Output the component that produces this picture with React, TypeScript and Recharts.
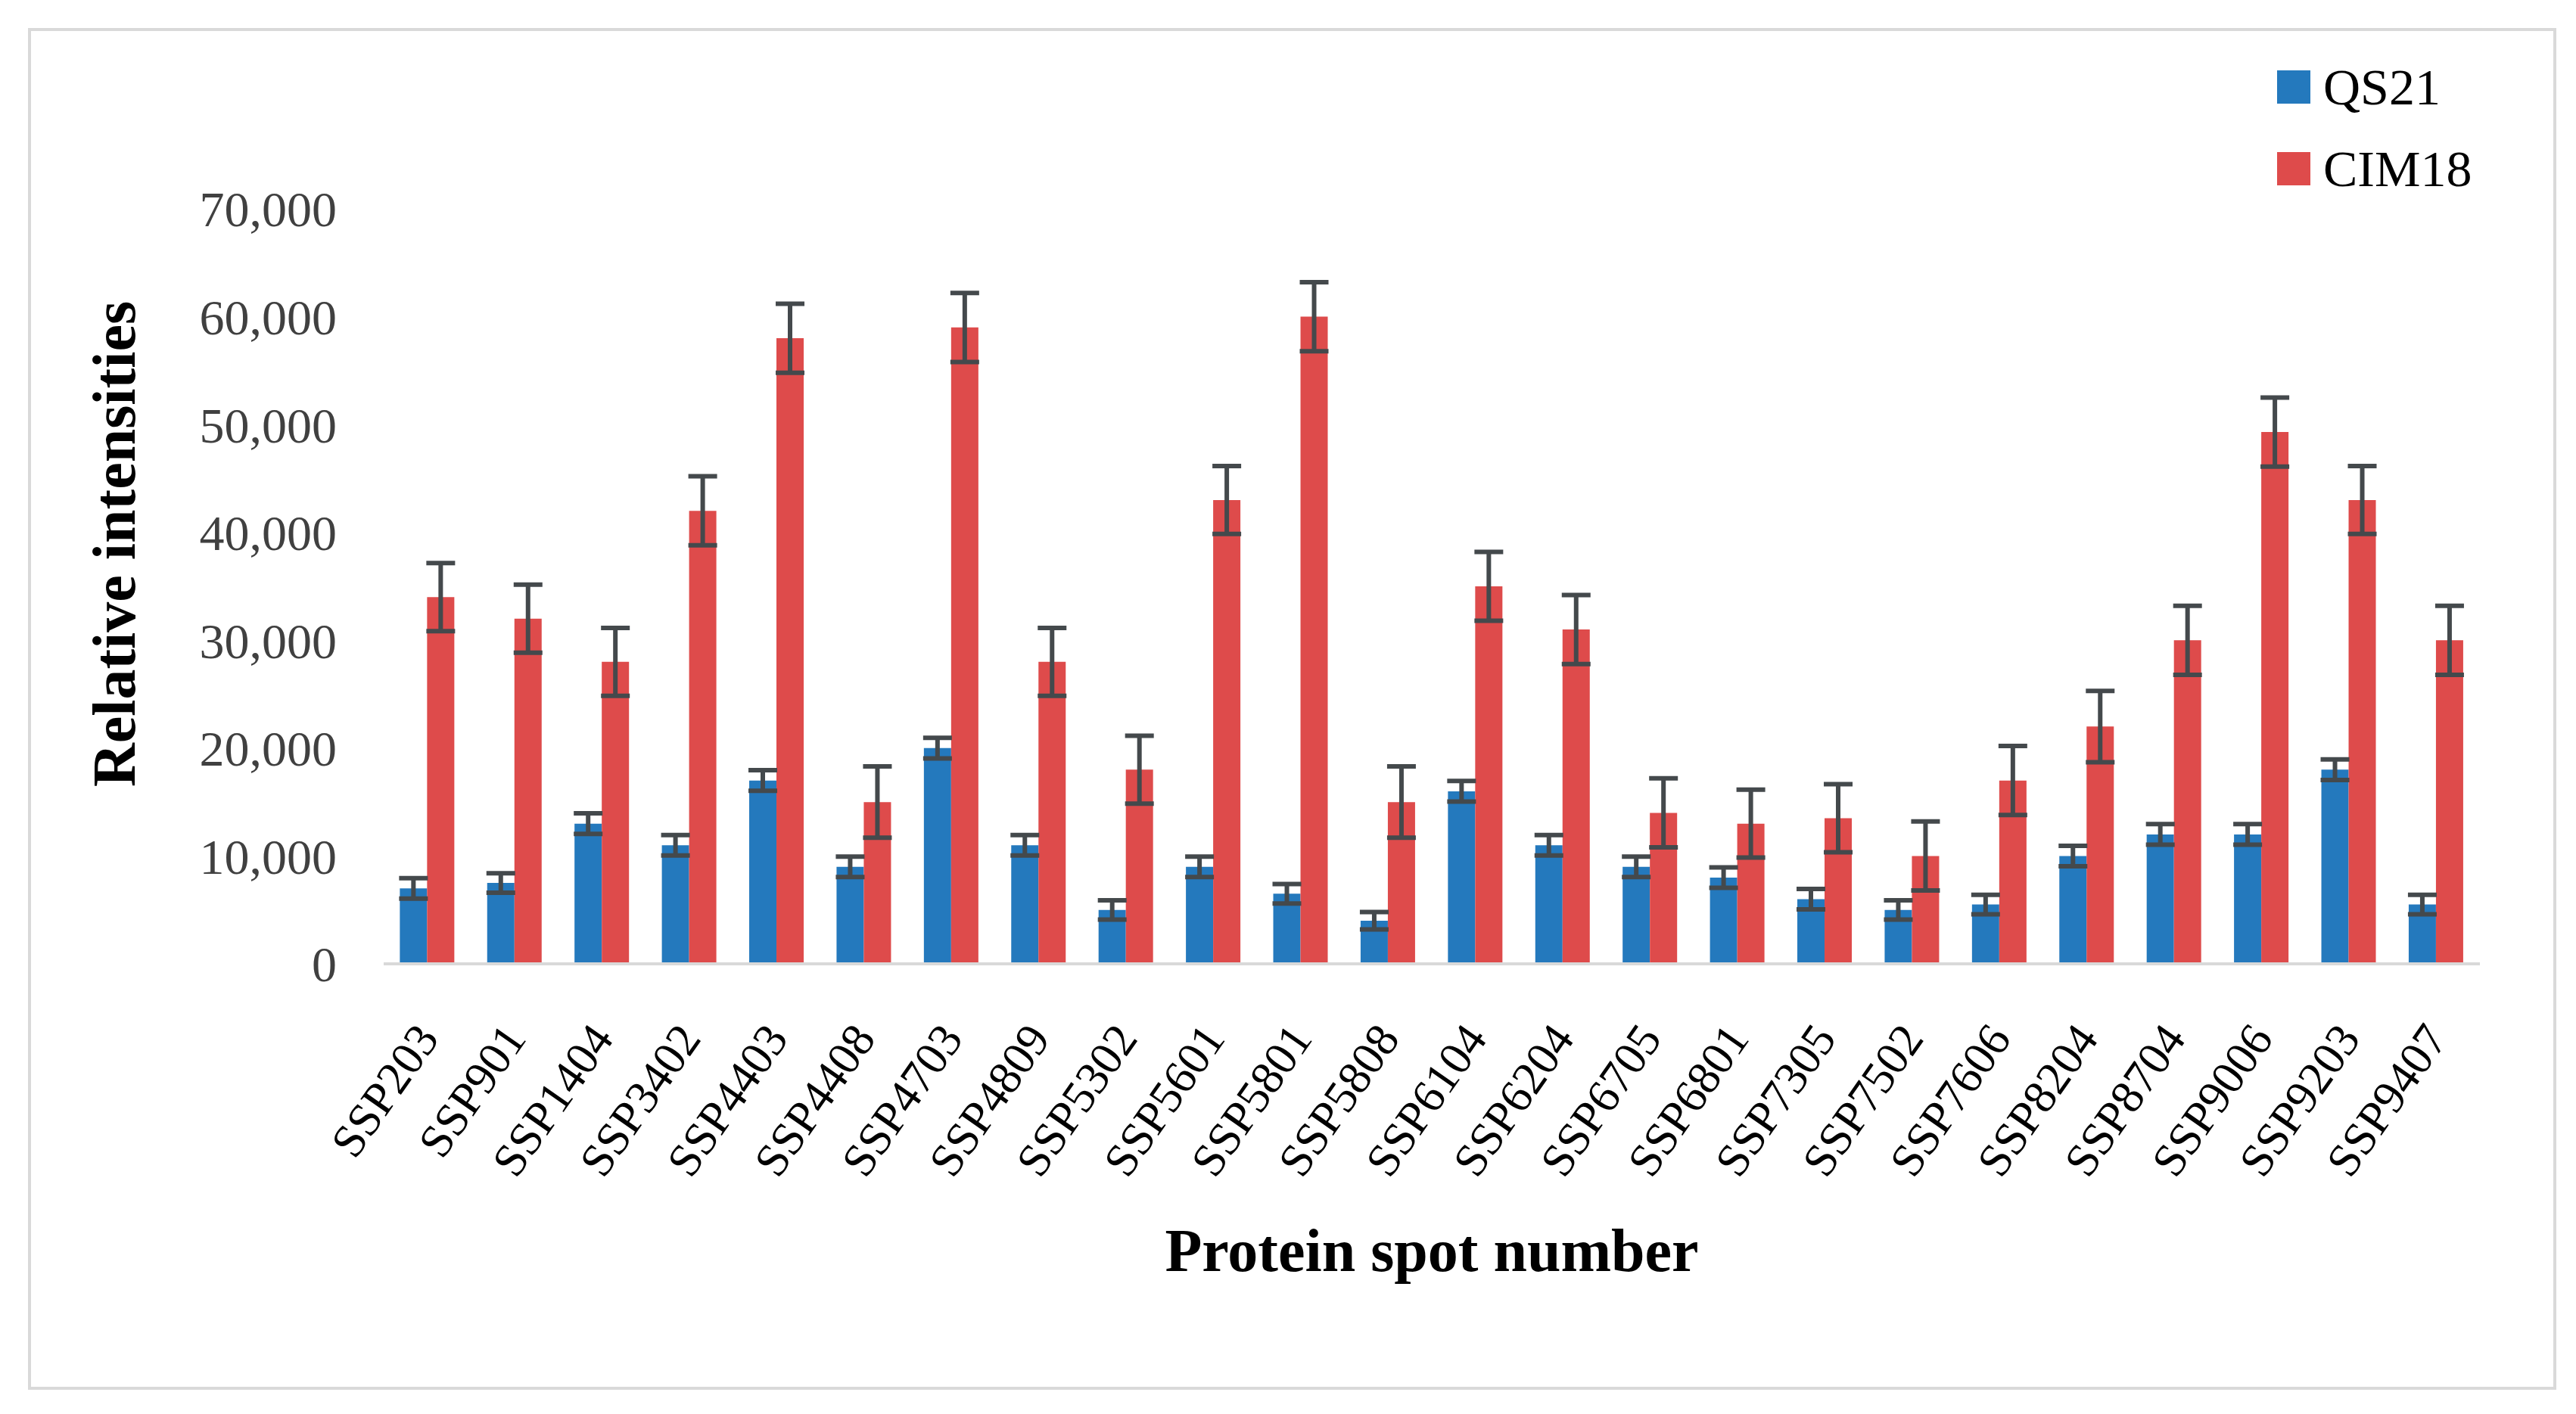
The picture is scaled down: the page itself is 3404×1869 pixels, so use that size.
import React from "react";
import { Bar, BarChart, ErrorBar, Label, Legend, XAxis, YAxis } from "recharts";

const spots = [
  "SSP203", "SSP901", "SSP1404", "SSP3402", "SSP4403", "SSP4408", "SSP4703", "SSP4809",
  "SSP5302", "SSP5601", "SSP5801", "SSP5808", "SSP6104", "SSP6204", "SSP6705", "SSP6801",
  "SSP7305", "SSP7502", "SSP7606", "SSP8204", "SSP8704", "SSP9006", "SSP9203", "SSP9407"
];

const qs21 = [
  7000, 7500, 13000, 11000, 17000, 9000, 20000, 11000,
  5000, 9000, 6500, 4000, 16000, 11000, 9000, 8000,
  6000, 5000, 5500, 10000, 12000, 12000, 18000, 5500
];
const qs21Err = [
  950, 900, 950, 950, 950, 950, 950, 950,
  900, 950, 900, 800, 950, 950, 950, 950,
  950, 900, 900, 950, 950, 950, 950, 900
];

const cim18 = [
  34000, 32000, 28000, 42000, 58000, 15000, 59000, 28000,
  18000, 43000, 60000, 15000, 35000, 31000, 14000, 13000,
  13500, 10000, 17000, 22000, 30000, 49300, 43000, 30000
];
const cim18Err = [
  3150, 3150, 3150, 3200, 3200, 3300, 3200, 3150,
  3150, 3150, 3200, 3300, 3200, 3200, 3200, 3150,
  3150, 3200, 3200, 3300, 3200, 3200, 3150, 3200
];

const seriesNames = ["QS21", "CIM18"];
const yTicks = [0, 10000, 20000, 30000, 40000, 50000, 60000, 70000];

const data = spots.map((spot, i) => ({
  spot,
  qs21: qs21[i],
  qs21Err: qs21Err[i],
  cim18: cim18[i],
  cim18Err: cim18Err[i]
}));

const FONT = '"Liberation Serif", "Times New Roman", serif';
const BLUE = "#2479bd";
const RED = "#de4b4b";
const ERR = "#44494c";

function SpotTick({ x, y, payload }: any) {
  return (
    <g transform={`translate(${x + 17},${y + 99})`}>
      <text textAnchor="end" transform="rotate(-55)" fontFamily={FONT} fontSize={62} fill="#000">
        {payload.value}
      </text>
    </g>
  );
}

function LegendBox({ payload }: any) {
  const items = [...(payload || [])].sort(
    (a: any, b: any) => seriesNames.indexOf(a.value) - seriesNames.indexOf(b.value)
  );
  return (
    <div style={{ fontFamily: FONT, color: "#000" }}>
      {items.map((entry: any) => (
        <div key={entry.value} style={{ display: "flex", alignItems: "center", height: 108 }}>
          <span style={{ width: 44, height: 44, background: entry.color, marginRight: 17 }} />
          <span style={{ fontSize: 68, lineHeight: 1 }}>{entry.value}</span>
        </div>
      ))}
    </div>
  );
}

export default function App() {
  return (
    <div
      style={{
        position: "absolute",
        left: 0,
        top: 0,
        width: 3404,
        height: 1869,
        background: "#fff",
        overflow: "hidden"
      }}
    >
      <div
        style={{
          position: "absolute",
          left: 37,
          top: 37,
          width: 3341,
          height: 1800,
          border: "4px solid #d9d9d9",
          boxSizing: "border-box"
        }}
      />
      <div style={{ position: "absolute", left: 0, top: 0 }}>
        <BarChart
          width={3404}
          height={1869}
          data={data}
          margin={{ top: 276, right: 127, bottom: 0, left: 0 }}
          barCategoryGap="18.5%"
          barGap={0}
        >
          <XAxis
            dataKey="spot"
            interval={0}
            height={595}
            tickLine={false}
            tickSize={0}
            tickMargin={0}
            axisLine={{ stroke: "#d9d9d9", strokeWidth: 4 }}
            tick={<SpotTick />}
          >
            <Label
              content={({ viewBox }: any) => (
                <text
                  x={viewBox.x + viewBox.width / 2}
                  y={viewBox.y + 406}
                  textAnchor="middle"
                  fontFamily={FONT}
                  fontWeight="bold"
                  fontSize={80}
                  fill="#000"
                >
                  Protein spot number
                </text>
              )}
            />
          </XAxis>
          <YAxis
            width={507}
            domain={[0, 70000]}
            ticks={yTicks}
            interval={0}
            axisLine={false}
            tickLine={false}
            tickSize={0}
            tickMargin={62}
            tickFormatter={(v: number) => v.toLocaleString("en-US")}
            tick={{ fontFamily: FONT, fontSize: 66, fill: "#404040" }}
          >
            <Label
              content={({ viewBox }: any) => {
                const cx = 178;
                const cy = viewBox.y + viewBox.height / 2 - 56;
                return (
                  <text
                    x={cx}
                    y={cy}
                    transform={`rotate(-90,${cx},${cy})`}
                    textAnchor="middle"
                    fontFamily={FONT}
                    fontWeight="bold"
                    fontSize={80}
                    fill="#000"
                  >
                    Relative intensities
                  </text>
                );
              }}
            />
          </YAxis>
          <Legend
            layout="vertical"
            align="center"
            verticalAlign="middle"
            content={<LegendBox />}
            wrapperStyle={{ position: "absolute", left: 3009, top: 61, width: 320, height: 216 }}
          />
          <Bar dataKey="qs21" name="QS21" fill={BLUE} isAnimationActive={false}>
            <ErrorBar dataKey="qs21Err" direction="y" width={19} stroke={ERR} strokeWidth={6} isAnimationActive={false} />
          </Bar>
          <Bar dataKey="cim18" name="CIM18" fill={RED} isAnimationActive={false}>
            <ErrorBar dataKey="cim18Err" direction="y" width={19} stroke={ERR} strokeWidth={6} isAnimationActive={false} />
          </Bar>
        </BarChart>
      </div>
    </div>
  );
}
